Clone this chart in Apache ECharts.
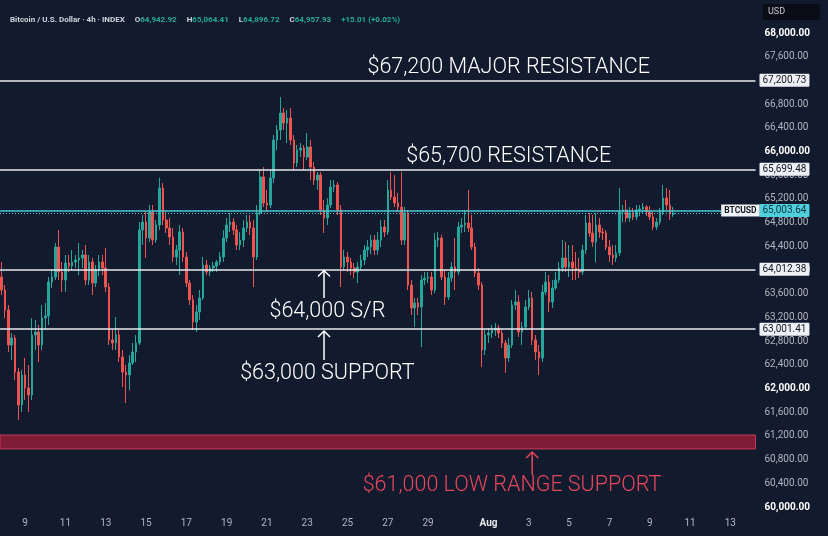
<!DOCTYPE html>
<html><head><meta charset="utf-8">
<script src="https://cdn.jsdelivr.net/npm/echarts@6/dist/echarts.min.js"></script>
<style>html,body{margin:0;padding:0;background:#121a2e;}#c{width:828px;height:536px;}</style>
</head><body><div id="c"></div>
<script>
// ---- data ----
const firstSlotUTC = [2024, 6, 7, 20]; // first 4h slot (Jul 7, 20:00)
const slotHours = 4;
const slotCount = 225;

const open = [63882,63662,63325,62734,62852,62278,61722,62228,62008,61890,
62903,62953,62734,63190,63224,63797,63882,64388,63966,63831,
64118,64068,64135,64169,64203,64253,63831,64135,63780,64000,
64135,64034,63713,62819,62768,62903,62532,62278,62228,62430,
62616,62768,64675,64810,64540,64979,64506,64760,65384,64844,
64709,64557,64219,64337,64641,64219,63780,63494,63122,63291,
63528,64084,63966,64034,64068,64135,64219,64540,64760,64810,
64675,64422,64506,64709,64810,64709,64219,64962,65570,65131,
65097,65553,66194,66363,66650,66481,66565,66194,65806,66025,
66059,65907,66076,65738,65519,65603,65013,64878,65097,65401,
65435,65013,64051,64219,64135,64034,63966,64051,64169,64337,
64388,64506,64337,64506,64726,64641,65350,65232,65131,65063,
64506,64962,63747,63359,63443,63376,63831,63865,63882,63662,
64506,64540,63882,63544,63865,64051,63966,64726,64760,64793,
64709,64388,63949,63747,62650,62903,62936,62987,63021,62936,
62768,62515,62734,63409,63460,62953,63038,63376,63528,62819,
62616,62515,63629,63797,63460,63696,63831,64034,64203,64051,
64135,64034,64000,63966,64337,64793,64624,64472,64760,64641,
64624,64388,64253,64203,64287,64979,65013,64878,64962,64895,
65013,65029,65063,64979,64895,64726,64810,64979,65215,65097,
64942.92];
const high = [64135,63747,63409,62936,62903,62346,62312,62515,62397,63190,
63156,63072,63409,63443,63882,64000,64456,64675,64135,64253,
64253,64337,64253,64456,64337,64422,64253,64203,64084,64253,
64253,64371,63780,62987,63207,62987,62650,62397,62565,62768,
62903,64810,64928,64979,65097,65097,64844,65553,65468,64979,
64878,64709,64422,64760,64709,64304,63831,63578,63409,63662,
64219,64169,64084,64135,64169,64304,64675,64878,64962,64878,
64760,64641,64844,64928,64928,64844,65097,65688,65738,65350,
65688,66278,66447,66920,66734,66700,66734,66278,66110,66143,
66110,66312,66194,65823,65654,65654,65181,65215,65519,65519,
65485,65097,64337,64304,64203,64118,64135,64253,64422,64506,
64591,64591,64641,64844,64844,65519,65654,65603,65300,65654,
65063,65013,63831,63528,63528,63915,63966,63966,63966,64624,
64641,64591,64000,63966,64135,64540,64810,64878,65013,65350,
64928,64456,64034,63797,62987,63021,63072,63105,63072,62987,
62819,62852,63494,63662,63578,63122,63494,63662,63629,62903,
62734,63747,63966,63915,63831,63966,64135,64506,64472,64422,
64422,64304,64203,64422,64928,64962,64928,64962,64878,64709,
64675,64506,64422,64422,65384,65097,65181,65063,65046,65097,
65097,65131,65097,65080,64979,64878,65046,65435,65384,65350,
65064.41];
const low = [63578,63190,62616,62481,62143,61468,61603,61806,61603,61806,
62650,62447,62650,62987,63072,63696,63831,63831,63629,63629,
63966,64000,64034,63915,64034,63747,63747,63578,63713,63899,
63915,63629,62734,62650,62650,62447,62025,61755,61975,62397,
62447,62734,64422,64203,64472,64422,64456,64675,64760,64624,
64422,64135,64084,63915,64135,63713,63409,62987,62953,63156,
63494,63915,63899,63966,63966,64084,64135,64472,64641,64591,
64337,64337,64388,64641,64591,63713,64169,64928,65063,64979,
65046,65468,66025,66194,66363,66143,66110,65688,65738,65907,
65688,65856,65519,65435,65350,64928,64624,64760,65046,65316,
64928,63713,64000,63966,63915,63865,63780,64000,64084,64219,
64270,64253,64253,64388,64557,64591,65181,65063,64979,64422,
64422,63662,63240,63038,63240,62700,63747,63780,63578,63612,
64388,63831,63409,63494,63797,63662,63915,64624,64641,64641,
64337,63882,63662,62363,62565,62768,62852,62886,62852,62684,
62262,62447,62684,63325,62869,62734,62987,63325,62734,62481,
62228,62447,63578,63291,63359,63662,63780,63966,63966,63882,
63831,63831,63865,63915,64270,64557,64388,64135,64540,64506,
64337,64135,64084,64135,64236,64810,64810,64810,64844,64844,
64911,64945,64911,64844,64675,64675,64760,64928,64979,64844,
64896.72];
const close = [63662,63325,62734,62852,62278,61722,62228,62008,61890,62903,
62953,62734,63190,63224,63797,63882,64388,63966,63831,64118,
64068,64135,64169,64203,64253,63831,64135,63780,64000,64135,
64034,63713,62819,62768,62903,62532,62278,62228,62430,62616,
62768,64675,64810,64540,64979,64506,64760,65384,64844,64709,
64557,64219,64337,64641,64219,63780,63494,63122,63291,63528,
64084,63966,64034,64068,64135,64219,64540,64760,64810,64675,
64422,64506,64709,64810,64709,64219,64962,65570,65131,65097,
65553,66194,66363,66650,66481,66565,66194,65806,66025,66059,
65907,66076,65738,65519,65603,65013,64878,65097,65401,65435,
65013,64051,64219,64135,64034,63966,64051,64169,64337,64388,
64506,64337,64506,64726,64641,65350,65232,65131,65063,64506,
64962,63747,63359,63443,63376,63831,63865,63882,63662,64506,
64540,63882,63544,63865,64051,63966,64726,64760,64793,64709,
64388,63949,63747,62650,62903,62936,62987,63021,62936,62768,
62515,62734,63409,63460,62953,63038,63376,63528,62819,62616,
62515,63629,63797,63460,63696,63831,64034,64203,64051,64135,
64034,64000,63966,64337,64793,64624,64472,64760,64641,64624,
64388,64253,64203,64287,64979,65013,64878,64962,64895,65013,
65029,65063,64979,64895,64726,64810,64979,65215,65097,64945,
64957.93];

const yTicks = [60000,60400,60800,61200,61600,62000,62400,62800,63200,63600,64000,
64400,64800,65200,65600,66000,66400,66800,67200,67600,68000];
const tickDates = ['07-09','07-11','07-13','07-15','07-17','07-19','07-21','07-23','07-25','07-27','07-29',
'08-01','08-03','08-05','08-07','08-09','08-11','08-13'];
const tickTexts = ['9','11','13','15','17','19','21','23','25','27','29','Aug','3','5','7','9','11','13'];

const levels = [67200.73, 65699.48, 64012.38, 63001.41];
const livePrice = 65003.64;
const lastClose = 64957.93;
const countdown = '03:03:03';
const lowZone = [60980, 61215];
const header = {o:64942.92, h:65064.41, l:64896.72, c:64957.93, chg:15.01, pct:0.02};

const noteTexts = ['$67,200 MAJOR RESISTANCE','$65,700 RESISTANCE','$64,000 S/R','$63,000 SUPPORT','$61,000 LOW RANGE SUPPORT'];
// ---- placement of annotations (slot index, price) ----
const noteAnchors = [[151.1,67409],[151.2,65907],[96.6,63291],[97.3,62245],[152.1,60354]];
const noteColors = ['#ffffff','#ffffff','#ffffff','#ffffff','#e5475c'];
const arrowAnchors = [[95.7,63528,63990],[95.7,62481,62970],[157.6,60540,60928]];
const arrowColors = ['#ffffff','#ffffff','#e5475c'];
const tagAnchor = [[219.6, livePrice]];

// ---- build ----
const pad = n => String(n).padStart(2,'0');
const categories = [];
const t0 = Date.UTC(firstSlotUTC[0], firstSlotUTC[1], firstSlotUTC[2], firstSlotUTC[3]);
for (let i = 0; i < slotCount; i++) {
  const d = new Date(t0 + i * slotHours * 3600e3);
  categories.push(pad(d.getUTCMonth()+1) + '-' + pad(d.getUTCDate()) + ' ' + pad(d.getUTCHours()) + ':00');
}
const tickMap = {};
tickDates.forEach((d, j) => { tickMap[d + ' 00:00'] = tickTexts[j]; });
const candles = open.map((o, i) => [o, close[i], low[i], high[i]]);
const fmt = v => v.toLocaleString('en-US', {minimumFractionDigits:2, maximumFractionDigits:2});
const AX = 'Roboto, sans-serif';
const HD = 'Roboto, sans-serif';

const boxLabel = (txt, bg, fg) => ({show:true, position:'end', distance:4, formatter:txt,
  backgroundColor:bg, color:fg, fontSize:10, fontFamily:AX, padding:[2,3,1,3], borderRadius:1});

const chart = echarts.init(document.getElementById('c'));
chart.setOption({
  animation:false,
  backgroundColor:'#121a2e',
  title:{left:5, top:6, text:
    '{t|Bitcoin / U.S. Dollar · 4h · INDEX}  {k|O}{v|' + fmt(header.o) + '}  {k|H}{v|' + fmt(header.h) +
    '}  {k|L}{v|' + fmt(header.l) + '}  {k|C}{v|' + fmt(header.c) + '}  {v|+' + fmt(header.chg) + ' (+' + fmt(header.pct) + '%)}',
    textStyle:{rich:{
      t:{color:'#d1d4dc', fontSize:8, fontFamily:HD},
      k:{color:'#d1d4dc', fontSize:8, fontFamily:HD},
      v:{color:'#22ab94', fontSize:8, fontFamily:HD}
    }}},
  graphic:[
    {type:'rect', shape:{x:763, y:4, width:57, height:16, r:3}, style:{fill:'#0a0d15'}},
    {type:'text', x:768, y:12, style:{text:'USD', fill:'#c8cbd3', fontSize:9, fontFamily:AX, verticalAlign:'middle'}}
  ],
  grid:{left:0, right:72.5, top:0, bottom:21},
  xAxis:{type:'category', data:categories, boundaryGap:true,
    axisLine:{show:false}, axisTick:{show:false}, splitLine:{show:false},
    axisLabel:{interval:(idx, val) => tickMap[val] !== undefined, margin:3,
      formatter: val => tickMap[val] === 'Aug' ? '{m|Aug}' : '{d|' + tickMap[val] + '}',
      rich:{d:{color:'#b2b5be', fontSize:10, fontFamily:AX}, m:{color:'#e6e8ee', fontSize:10, fontWeight:'bold', fontFamily:AX}}}},
  yAxis:{type:'value', position:'right', min:59865, max:68557,
    splitLine:{show:false}, axisLine:{show:false}, axisTick:{show:false},
    axisLabel:{customValues:yTicks, margin:9,
      formatter: v => (v % 2000 === 0 ? '{b|' : '{n|') + fmt(v) + '}',
      rich:{b:{color:'#ffffff', fontWeight:'bold', fontSize:10, fontFamily:AX},
            n:{color:'#b2b5be', fontSize:10, fontFamily:AX}}}},
  series:[
    {type:'candlestick', data:candles, barWidth:'62%', z:3,
      itemStyle:{color:'#26a69a', color0:'#ef5350', borderColor:'#26a69a', borderColor0:'#ef5350', borderWidth:1},
      markArea:{silent:true, data:[[{yAxis:lowZone[0]}, {yAxis:lowZone[1]}]],
        itemStyle:{color:'rgba(140,30,58,0.9)', borderColor:'#c63a57', borderWidth:1}},
      markLine:{silent:true, symbol:['none','none'], animation:false, data:[
        {yAxis:levels[0], lineStyle:{color:'#e8eaef', width:1.5, type:'solid'}, label:boxLabel(fmt(levels[0]), '#eef0f5', '#131722')},
        {yAxis:levels[1], lineStyle:{color:'#e8eaef', width:1.5, type:'solid'}, label:boxLabel(fmt(levels[1]), '#eef0f5', '#131722')},
        {yAxis:levels[2], lineStyle:{color:'#e8eaef', width:1.5, type:'solid'}, label:boxLabel(fmt(levels[2]), '#eef0f5', '#131722')},
        {yAxis:levels[3], lineStyle:{color:'#e8eaef', width:1.5, type:'solid'}, label:boxLabel(fmt(levels[3]), '#eef0f5', '#131722')},
        {yAxis:livePrice, lineStyle:{color:'#4cc9d6', width:1.5, type:'solid'}, label:boxLabel(fmt(livePrice), '#4fd0dc', '#0d3440')},
        {yAxis:lastClose, lineStyle:{color:'#4cc9d6', width:1, type:[1,2]}, label:{show:false}},
        {yAxis:64793, lineStyle:{opacity:0}, label:boxLabel(countdown, '#eef0f5', '#5d606b')}
      ]}},
    {type:'custom', name:'notes', z:6, data:noteAnchors, silent:true,
      renderItem:(params, api) => {
        const p = api.coord([api.value(0), api.value(1)]);
        return {type:'text', x:p[0], y:p[1], style:{text:noteTexts[params.dataIndex], fill:noteColors[params.dataIndex],
          fontSize:21.5, fontWeight:300, fontFamily:'Roboto, sans-serif', align:'center', verticalAlign:'middle'}};
      }},
    {type:'custom', name:'arrows', z:6, data:arrowAnchors, silent:true, encode:{x:0, y:[1,2]},
      renderItem:(params, api) => {
        const tail = api.coord([api.value(0), api.value(1)]);
        const tip = api.coord([api.value(0), api.value(2)]);
        const c = arrowColors[params.dataIndex];
        return {type:'group', children:[
          {type:'line', shape:{x1:tail[0], y1:tail[1], x2:tip[0], y2:tip[1]}, style:{stroke:c, lineWidth:1.5}},
          {type:'polyline', shape:{points:[[tip[0]-6, tip[1]+6],[tip[0], tip[1]],[tip[0]+6, tip[1]+6]]}, style:{stroke:c, lineWidth:1.5, fill:null}}
        ]};
      }},
    {type:'custom', name:'tag', z:7, data:tagAnchor, silent:true,
      renderItem:(params, api) => {
        const p = api.coord([api.value(0), api.value(1)]);
        return {type:'text', x:p[0], y:p[1], style:{text:'BTCUSD', fill:'#131722', fontSize:8.5, fontWeight:'bold',
          fontFamily:AX, align:'center', verticalAlign:'middle', backgroundColor:'#f2f3f6', padding:[2,3,1,3]}};
      }}
  ]
});
</script></body></html>
